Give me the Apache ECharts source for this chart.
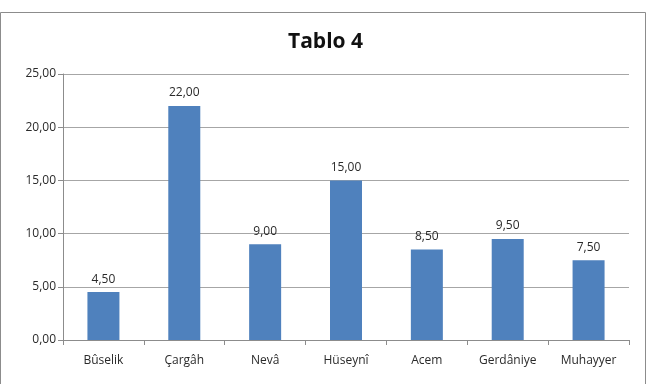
<!DOCTYPE html>
<html><head><meta charset="utf-8">
<script src="https://cdn.jsdelivr.net/npm/echarts@6/dist/echarts.min.js"></script>
<style>html,body{margin:0;padding:0;background:#fff}#c{width:651px;height:384px}</style>
</head><body><div id="c"></div>
<script>
const categories = ['Bûselik','Çargâh','Nevâ','Hüseynî','Acem','Gerdâniye','Muhayyer'];
const values = [4.5, 22, 9, 15, 8.5, 9.5, 7.5];
const yTicks = [0, 5, 10, 15, 20, 25];
const fmt = v => v.toFixed(2).replace('.', ',');
const chart = echarts.init(document.getElementById('c'));
chart.setOption({
  animation: false,
  backgroundColor: '#fff',
  textStyle: {fontFamily: 'Open Sans'},
  title: {text: 'Tablo 4', left: 'center', top: 27,
    textStyle: {fontFamily: 'Open Sans', fontSize: 21, fontWeight: 'bold', color: '#111'}},
  graphic: [{type: 'rect', shape: {x: 0.5, y: 12.5, width: 645, height: 380},
    style: {fill: 'none', stroke: '#8c8c8c', lineWidth: 1}, silent: true}],
  grid: {left: 63, right: 22, top: 74, bottom: 44},
  xAxis: {type: 'category', data: categories,
    axisLine: {lineStyle: {color: '#8c8c8c'}},
    axisTick: {show: true, length: 5, lineStyle: {color: '#8c8c8c'}},
    axisLabel: {color: '#2a2a2a', fontSize: 12, margin: 15}},
  yAxis: {type: 'value', min: yTicks[0], max: yTicks[yTicks.length-1], interval: 5,
    axisLine: {show: true, lineStyle: {color: '#8c8c8c'}},
    axisTick: {show: true, length: 5, lineStyle: {color: '#8c8c8c'}},
    splitLine: {lineStyle: {color: '#a6a6a6'}},
    axisLabel: {color: '#2a2a2a', fontSize: 12, margin: 7, formatter: fmt}},
  series: [{type: 'bar', data: values, barWidth: 32,
    itemStyle: {color: '#4F81BD'},
    label: {show: true, position: 'top', distance: 7, color: '#2a2a2a', fontSize: 12,
      formatter: p => fmt(p.value)}}]
});
</script></body></html>
